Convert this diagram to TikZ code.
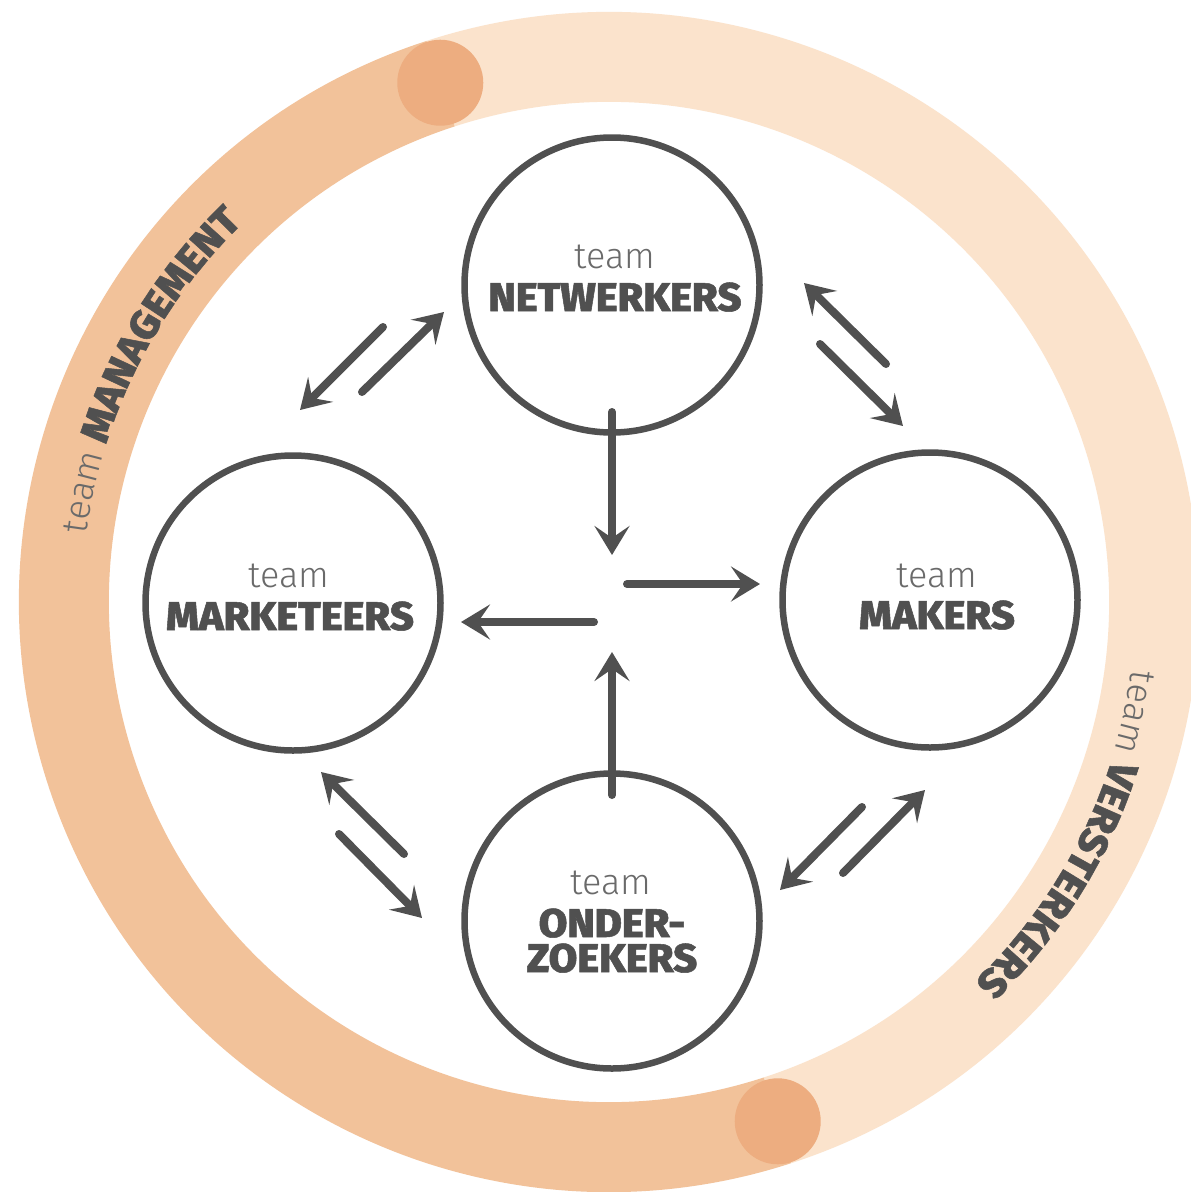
\documentclass[tikz,border=0pt]{standalone}
\usepackage{fontspec}
\setmainfont{Fira Sans}
\newfontfamily\lightf{Fira Sans Light}
\newfontfamily\heavyf{Fira Sans ExtraBold}[FakeBold=1.3, FakeStretch=1.04]
\usetikzlibrary{arrows.meta,decorations.text,calc}
\definecolor{ringdark}{HTML}{F2C29A}
\definecolor{ringlight}{HTML}{FBE3CC}
\definecolor{ringjoin}{HTML}{EDAD80}
\definecolor{ink}{HTML}{505050}
\definecolor{inklight}{HTML}{6A6A6A}
\newcommand{\ringL}{\fontsize{36}{40}\selectfont\lightf\color{inklight}}
\newcommand{\ringH}{\fontsize{40}{44}\selectfont\heavyf\color{ink}}
\tikzset{
  teamcircle/.style={circle, draw=ink, line width=6.5pt, minimum size=295pt, inner sep=0pt},
  teamword/.style={anchor=base, inner sep=0pt, text=inklight, font=\fontsize{36}{40}\selectfont\lightf},
  teamname/.style={anchor=base, inner sep=0pt, text=ink, font=\fontsize{40}{44}\selectfont\heavyf},
  flow/.style={draw=ink, line width=8pt, line cap=round, -{Stealth[length=29pt,width=35pt,inset=12pt]}},
  band/.style={line width=90pt},
}
\begin{document}
\begin{tikzpicture}[x=1pt,y=-1pt]
\path[use as bounding box] (0,0) rectangle (1191,1192);
\clip (0,0) rectangle (1191,1192);
\fill[white] (0,0) rectangle (1191,1192);
\coordinate (C) at (609,602);
% outer ring
\draw[band, ringlight] ($(C)+(-108:545)$) arc[start angle=-108, end angle=72, radius=545];
\draw[band, ringdark] ($(C)+(-108:545)$) arc[start angle=-108, end angle=-288, radius=545];
\fill[ringjoin] ($(C)+(-108:546)$) coordinate (J1) circle[radius=43];
\fill[ringjoin] ($(C)+(72:546)$) coordinate (J2) circle[radius=43];
% ring labels
\path[decorate, decoration={text along path, text align=left,
  text={|\ringL|team |\ringH|MANAGEMENT}}]
  ($(C)+(-172.6:527)$) arc[start angle=-172.6, end angle=-105, radius=527];
\path[decorate, decoration={text along path, text align=left,
  text={|\ringL|team |\ringH|VERSTERKERS}}]
  ($(C)+(7.4:527)$) arc[start angle=7.4, end angle=75, radius=527];
% team circles
\node[teamcircle] (N) at (612,285) {};
\node[teamcircle] (W) at (293,603) {};
\node[teamcircle] (E) at (930,600) {};
\node[teamcircle] (S) at (612,921) {};
% labels
\node[teamword] (Nt) at (615,268) {team};
\node[teamname] (Nn) at (615,311) {NETWERKERS};
\node[teamword] (Wt) at (289,587) {team};
\node[teamname] (Wn) at (290,630) {MARKETEERS};
\node[teamword] (Et) at (937,587) {team};
\node[teamname] (En) at (937,629) {MAKERS};
\node[teamword] (St) at (611,894) {team};
\node[teamname] (Sn1) at (612,937) {ONDER-};
\node[teamname] (Sn2) at (612,972) {ZOEKERS};
% arrow end points
\coordinate (a1s) at (612,412); \coordinate (a1e) at (612,555);
\coordinate (a2s) at (627,584); \coordinate (a2e) at (760,584);
\coordinate (a3s) at (594,622); \coordinate (a3e) at (461,622);
\coordinate (a4s) at (612,795); \coordinate (a4e) at (612,652);
\coordinate (nw1s) at (383,327); \coordinate (nw1e) at (300,410);
\coordinate (nw2s) at (362,392); \coordinate (nw2e) at (444,312);
\coordinate (ne1s) at (886,364); \coordinate (ne1e) at (804,283);
\coordinate (ne2s) at (820,344); \coordinate (ne2e) at (903,426);
\coordinate (sw1s) at (404,854); \coordinate (sw1e) at (321,772);
\coordinate (sw2s) at (339,834); \coordinate (sw2e) at (422,918);
\coordinate (se1s) at (862,807); \coordinate (se1e) at (780,890);
\coordinate (se2s) at (843,873); \coordinate (se2e) at (925,790);
% arrows
\draw[flow] (a1s) -- (a1e);
\draw[flow] (a2s) -- (a2e);
\draw[flow] (a3s) -- (a3e);
\draw[flow] (a4s) -- (a4e);
\draw[flow] (nw1s) -- (nw1e);
\draw[flow] (nw2s) -- (nw2e);
\draw[flow] (ne1s) -- (ne1e);
\draw[flow] (ne2s) -- (ne2e);
\draw[flow] (sw1s) -- (sw1e);
\draw[flow] (sw2s) -- (sw2e);
\draw[flow] (se1s) -- (se1e);
\draw[flow] (se2s) -- (se2e);
\end{tikzpicture}
\end{document}
